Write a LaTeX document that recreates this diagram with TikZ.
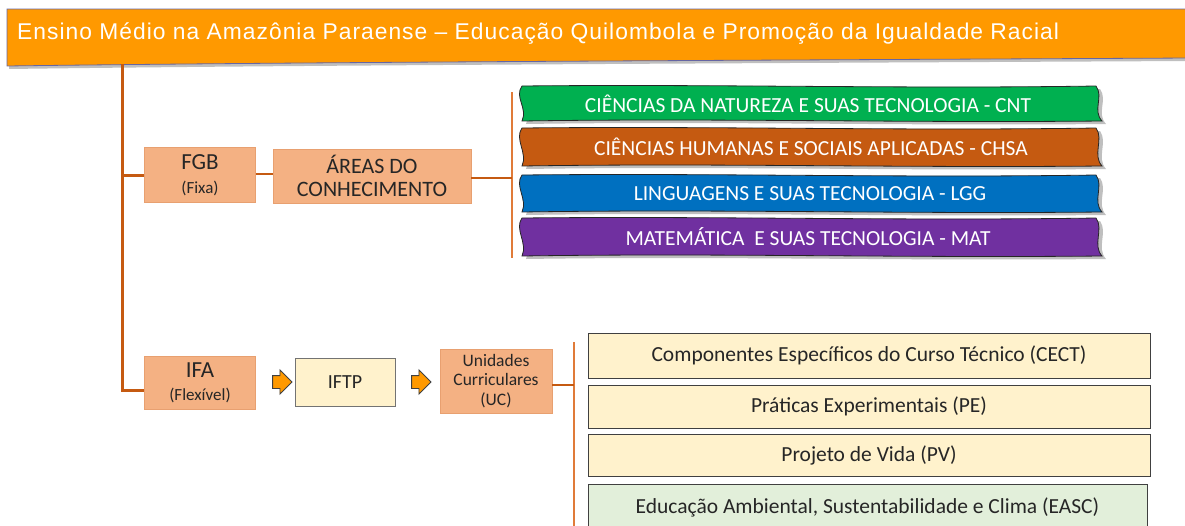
\documentclass[tikz,border=0pt]{standalone}
\usepackage{fontspec}
\setmainfont{Carlito}
\newfontfamily\arialf[LetterSpace=4.5]{Liberation Sans}
\usetikzlibrary{shapes.arrows}
\definecolor{hdr}{HTML}{FF9900}
\definecolor{lnk}{HTML}{C55A11}
\definecolor{brk}{HTML}{E07B39}
\definecolor{peach}{HTML}{F4B183}
\definecolor{peachb}{HTML}{E8A070}
\definecolor{cream}{HTML}{FFF2CC}
\definecolor{mint}{HTML}{E2EFDA}
\definecolor{cgreen}{HTML}{00B050}
\definecolor{corange}{HTML}{C55A11}
\definecolor{cblue}{HTML}{0070C0}
\definecolor{cpurple}{HTML}{7030A0}
\definecolor{txt}{HTML}{262626}
\begin{document}
\begin{tikzpicture}[x=1pt,y=-1pt,
  peachbox/.style={draw=peachb,line width=0.8pt,fill=peach,align=center,text=txt,inner sep=0pt},
  creambox/.style={draw=black!55,line width=1pt,fill=cream,align=center,text=txt,inner sep=0pt},
  rbox/.style={draw=black!75,line width=1pt,fill=cream,text=txt,font=\fontsize{21.5}{24}\selectfont,inner sep=0pt},
  mainline/.style={draw=lnk,line width=3pt},
  brline/.style={draw=brk,line width=2pt},
  blockarrow/.style={single arrow,draw=black!75,fill=hdr,line width=0.9pt,minimum height=18pt,single arrow head extend=5.5pt,inner sep=6pt},
  bantext/.style={text=white,font=\fontsize{21.5}{24}\selectfont,inner sep=0pt}
]
\useasboundingbox (0,0) rectangle (1185,525);
% header
\fill[black!25] (9,12) -- (1190,12) -- (1190,61) .. controls (800,63) and (300,65) .. (9,69) -- cycle;
\path[fill=hdr,draw=black!60!blue!60,line width=0.8pt] (7,9) -- (1192,9) -- (1192,58) .. controls (800,60) and (300,62) .. (7,66) -- cycle;
\node[anchor=west,text=white,font=\arialf\fontsize{22.8}{25}\selectfont,inner sep=0pt] (hdr) at (17,34) {Ensino Médio na Amazônia Paraense – Educação Quilombola e Promoção da Igualdade Racial};
\coordinate (top) at (122,64);
% left boxes
\node[peachbox,minimum width=111pt,minimum height=55pt,font=\fontsize{17}{24}\selectfont] (fgb) at (200,175) {{\fontsize{23}{26}\selectfont FGB}\\{(Fixa)}};
\node[peachbox,minimum width=198pt,minimum height=54pt,font=\fontsize{22}{23}\selectfont] (areas) at (372,176) {ÁREAS DO\\CONHECIMENTO};
\node[peachbox,minimum width=111pt,minimum height=53pt,font=\fontsize{17}{23}\selectfont] (ifa) at (200,383) {{\fontsize{23}{26}\selectfont IFA}\\{(Flexível)}};
\node[creambox,minimum width=100pt,minimum height=48pt,font=\fontsize{20}{22}\selectfont] (iftp) at (345,382) {IFTP};
\node[peachbox,minimum width=112pt,minimum height=64pt,font=\fontsize{17.5}{19.5}\selectfont] (uc) at (496,381) {Unidades\\Curriculares\\(UC)};
\node[blockarrow] (a1) at (279,382) {};
\node[blockarrow] (a2) at (418,382) {};
% main connectors
\coordinate (turn) at (122,390);
\coordinate (fgbj) at (122,175);
\draw[mainline] (top) -- (turn) -- (ifa.west |- turn);
\draw[mainline] (fgbj) -- (fgb.west |- fgbj);
\draw[draw=lnk,line width=2.5pt] (fgb.east |- 0,174) -- (areas.west |- 0,174);
% bracket 1
\coordinate (b1t) at (512,92);
\coordinate (b1b) at (512,258);
\coordinate (b1m) at (512,178);
\draw[brline] (b1t) -- (b1b);
\draw[draw=lnk,line width=2.5pt] (areas.east |- b1m) -- (b1m);
% banners
\foreach \ya/\yb/\col in {86/121/cgreen,128/166/corange,175/212/cblue,218/256/cpurple}{
  \fill[black!25] (526,\ya+3) .. controls (720,\ya+1) and (900,\ya+6) .. (1100,\ya+3)
     .. controls (1108,\ya+14) and (1096,\yb-8) .. (1106,\yb+3)
     .. controls (900,\yb+5) and (720,\yb) .. (526,\yb+3)
     .. controls (532,\yb-10) and (518,\ya+14) .. cycle;
  \path[fill=\col,draw=black!85,line width=0.8pt] (522,\ya) .. controls (720,\ya-2) and (900,\ya+3) .. (1096,\ya)
     .. controls (1104,\ya+11) and (1092,\yb-11) .. (1102,\yb)
     .. controls (900,\yb+2) and (720,\yb-3) .. (522,\yb)
     .. controls (528,\yb-13) and (514,\ya+11) .. cycle;
}
\node[bantext] (cnt) at (808,103.5) {CIÊNCIAS DA NATUREZA E SUAS TECNOLOGIA - CNT};
\node[bantext] (chsa) at (811,147) {CIÊNCIAS HUMANAS E SOCIAIS APLICADAS - CHSA};
\node[bantext] (lgg) at (810,194) {LINGUAGENS E SUAS TECNOLOGIA - LGG};
\node[bantext] (mat) at (808,237) {MATEMÁTICA\ \ E SUAS TECNOLOGIA - MAT};
% bracket 2
\coordinate (b2t) at (574,342);
\coordinate (b2b) at (574,526);
\coordinate (b2m) at (574,385);
\draw[brline] (b2t) -- (b2b);
\draw[draw=lnk,line width=2.5pt] (uc.east |- b2m) -- (b2m);
% right boxes
\node[rbox,minimum width=562pt,minimum height=45pt] (cect) at (869,355.5) {Componentes Específicos do Curso Técnico (CECT)};
\node[rbox,minimum width=562pt,minimum height=43pt] (pe) at (869,406.5) {Práticas Experimentais (PE)};
\node[rbox,minimum width=562pt,minimum height=42pt] (pv) at (869,455) {Projeto de Vida (PV)};
\node[rbox,fill=mint,minimum width=559pt,minimum height=46pt] (easc) at (867.5,507) {Educação Ambiental, Sustentabilidade e Clima (EASC)};
\end{tikzpicture}
\end{document}
